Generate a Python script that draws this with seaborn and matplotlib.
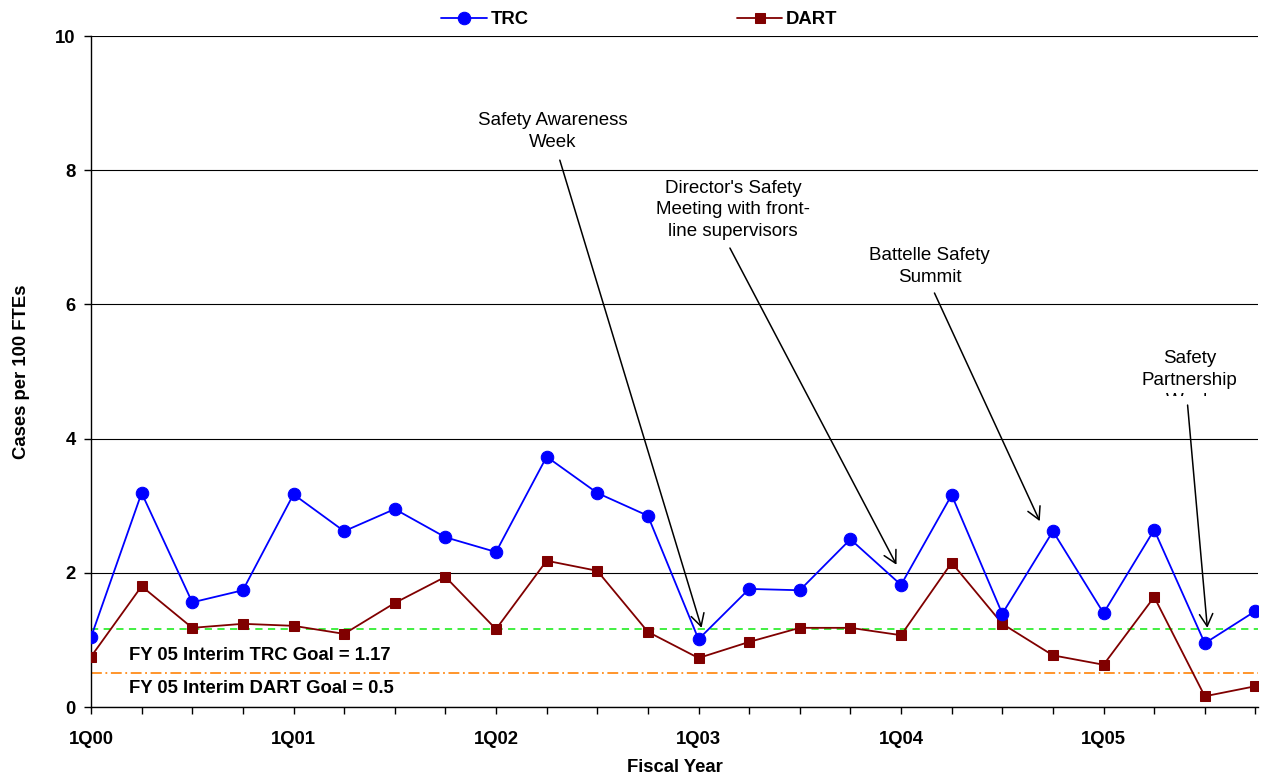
import matplotlib
matplotlib.use("Agg")
import matplotlib.pyplot as plt
import seaborn as sns
import numpy as np
import pandas as pd
from matplotlib.ticker import MultipleLocator, FixedLocator

sns.set_theme(style="white")
plt.rcParams['font.family'] = ['Liberation Sans', 'DejaVu Sans']
for key in ["text.color", "axes.labelcolor", "xtick.color", "ytick.color"]:
    plt.rcParams[key] = "black"

quarters = [f"{q}Q{y:02d}" for y in range(0, 6) for q in range(1, 5)]
trc = [1.04, 3.19, 1.56, 1.74, 3.17, 2.62, 2.95, 2.53, 2.31, 3.73, 3.19, 2.85,
       1.01, 1.76, 1.74, 2.50, 1.82, 3.16, 1.39, 2.62, 1.40, 2.64, 0.95, 1.43]
dart = [0.75, 1.80, 1.18, 1.24, 1.21, 1.09, 1.55, 1.94, 1.16, 2.18, 2.03, 1.12,
        0.73, 0.97, 1.18, 1.18, 1.07, 2.15, 1.24, 0.77, 0.63, 1.64, 0.16, 0.31]
trc_goal = 1.17
dart_goal = 0.5
year_labels = ["1Q00", "1Q01", "1Q02", "1Q03", "1Q04", "1Q05"]

df = pd.DataFrame({"idx": np.arange(len(quarters)), "quarter": quarters,
                   "TRC": trc, "DART": dart})

BOLD = 13.3
NORMAL = 13.5

fig = plt.figure(figsize=(12.62, 7.76), dpi=100)
ax = fig.add_axes([0.0721, 0.0889, 0.9968 - 0.0721, 0.9536 - 0.0889])

# goal lines
ax.axhline(trc_goal, color="#33ee33", lw=1.3, ls=(0, (4, 3)), zorder=2)
ax.axhline(dart_goal, color="#ff8c1a", lw=1.3, ls=(0, (6, 2, 1, 2)), zorder=2)

sns.lineplot(data=df, x="idx", y="TRC", ax=ax, color="#0000ff", marker="o",
             markersize=9, markeredgecolor="#0000ff", lw=1.3, label="TRC", zorder=4)
sns.lineplot(data=df, x="idx", y="DART", ax=ax, color="#800000", marker="s",
             markersize=7.5, markeredgecolor="#800000", lw=1.3, label="DART", zorder=3)

ax.set_xlim(0, 23.05)
ax.set_ylim(0, 10)
ax.yaxis.set_major_locator(MultipleLocator(2))
ax.grid(axis="y", color="black", lw=0.8)
ax.set_axisbelow(True)
ax.xaxis.set_major_locator(FixedLocator(np.arange(0, 24, 4)))
ax.xaxis.set_minor_locator(FixedLocator(np.arange(0, 24, 1)))
ax.set_xticklabels(year_labels)
ax.tick_params(axis="x", which="both", direction="out", length=5, width=1,
               color="black", bottom=True, pad=12)
ax.tick_params(axis="y", direction="out", length=5, width=1, color="black",
               left=True, pad=6)
for lbl in ax.get_xticklabels() + ax.get_yticklabels():
    lbl.set_fontweight("bold")
    lbl.set_fontsize(BOLD)
for s in ["top", "right"]:
    ax.spines[s].set_visible(False)
for s in ["left", "bottom"]:
    ax.spines[s].set_color("black")
    ax.spines[s].set_linewidth(1)

ax.set_xlabel("Fiscal Year", fontsize=BOLD, fontweight="bold", labelpad=8)
ax.set_ylabel("Cases per 100 FTEs", fontsize=BOLD, fontweight="bold", labelpad=18)

ax.legend(loc="center", bbox_to_anchor=(0.47, 1.024), ncol=2, frameon=False,
          prop={"weight": "bold", "size": BOLD}, handlelength=2.45,
          columnspacing=11.3, handletextpad=0.2, borderaxespad=0, borderpad=0)

ax.text(0.76, 0.77, f"FY 05 Interim TRC Goal = {trc_goal}", fontsize=BOLD,
        fontweight="bold", va="center", ha="left")
ax.text(0.76, 0.28, f"FY 05 Interim DART Goal = {dart_goal}", fontsize=BOLD,
        fontweight="bold", va="center", ha="left")

arrow = dict(arrowstyle="->,head_length=0.55,head_width=0.3", color="black",
             lw=1.1, shrinkA=0, shrinkB=0, mutation_scale=16)
notes = [
    ("Safety Awareness\nWeek", (9.12, 8.58), (9.26, 8.15), (12.06, 1.18)),
    ("Director's Safety\nMeeting with front-\nline supervisors", (12.68, 7.41), (12.62, 6.84), (15.91, 2.12)),
    ("Battelle Safety\nSummit", (16.56, 6.56), (16.66, 6.17), (18.74, 2.77)),
]
for txt, tpos, start, end in notes:
    ax.text(*tpos, txt, ha="center", va="center", fontsize=NORMAL, linespacing=1.36)
    ax.annotate("", xy=end, xytext=start, arrowprops=arrow)

# the last line of this note is cut off by its text box
t = ax.text(21.7, 4.87, "Safety\nPartnership\nWeek", ha="center", va="center",
            fontsize=NORMAL, linespacing=1.36, clip_on=True)
clip = plt.Rectangle((19.5, 4.63), 4, 3, transform=ax.transData)
t.set_clip_path(clip)
ax.annotate("", xy=(22.05, 1.18), xytext=(21.66, 4.5), arrowprops=arrow)

fig.savefig("out.png", dpi=100)
